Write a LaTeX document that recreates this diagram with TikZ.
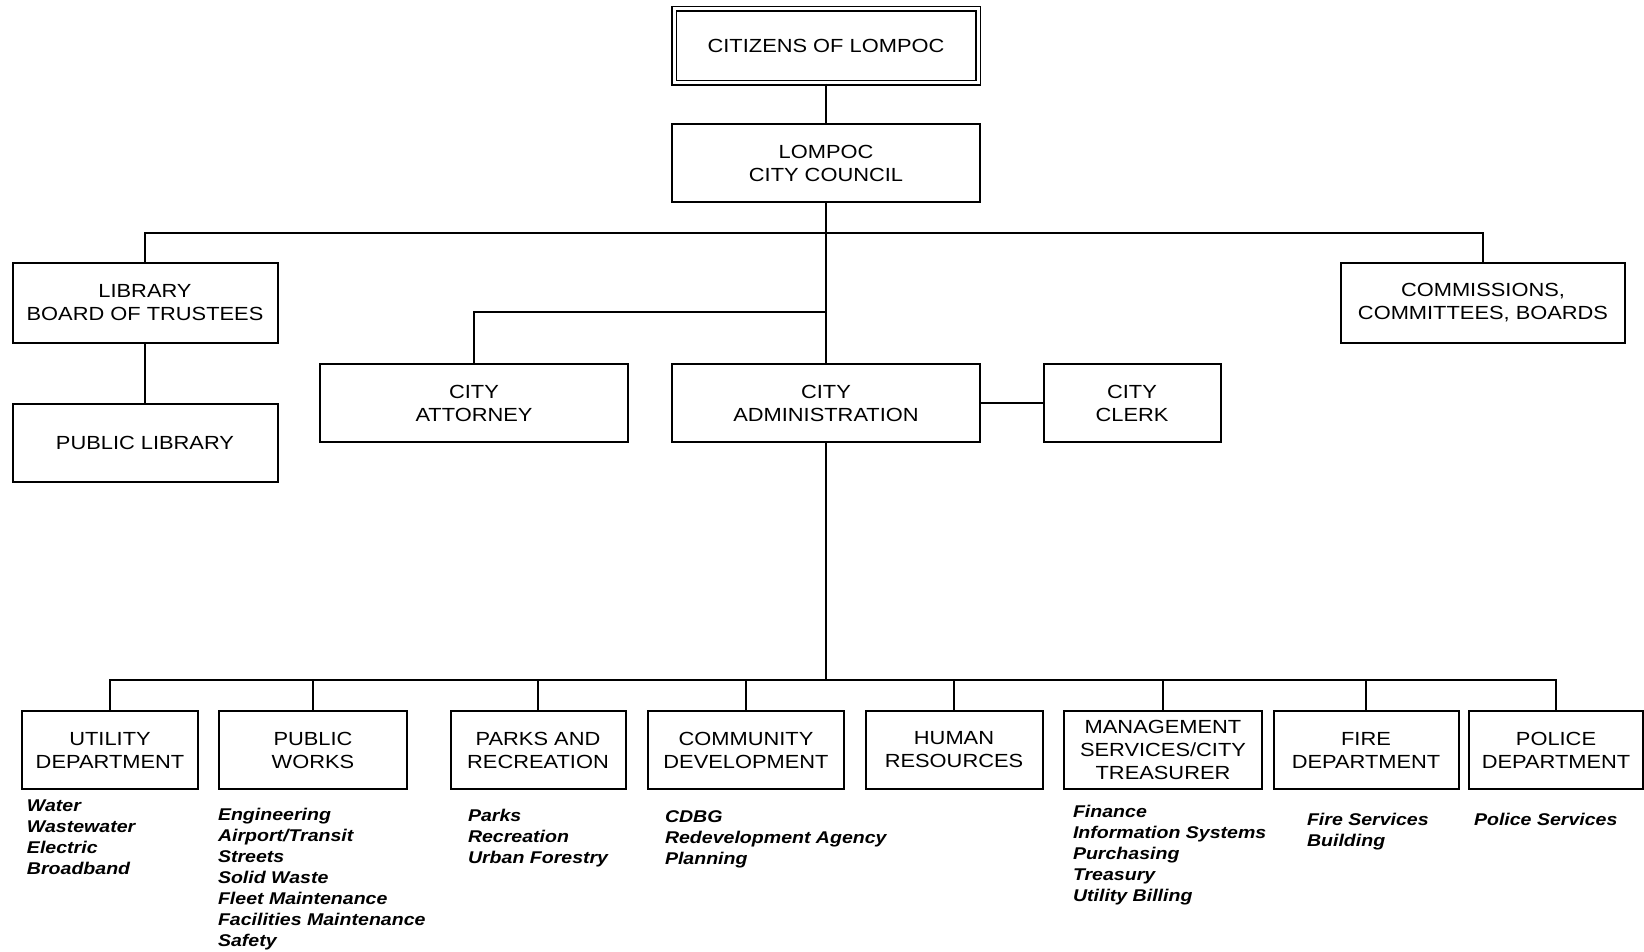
\documentclass[tikz,border=0pt]{standalone}
\usepackage{fontspec}
\setmainfont{Liberation Sans}[FakeStretch=1.15]

\begin{document}
\begin{tikzpicture}[x=1pt, y=1pt, line width=2pt, unit/.style={rectangle, draw, inner sep=2pt, align=center, minimum height=78pt, font=\fontsize{19}{23}\selectfont}, duties/.style={anchor=north west, inner sep=0pt, align=left, font=\fontsize{17}{21}\selectfont\bfseries\itshape}]
  \useasboundingbox (0,0) rectangle (1644,951);
  {
  \node[unit, double, double distance=3pt, line width=1.5pt, minimum width=304pt, minimum height=74pt] (citizens) at (826,905) {CITIZENS OF LOMPOC};
  \node[unit, minimum width=308pt, below of=citizens, node distance=117pt] (council) {LOMPOC\\CITY COUNCIL};
  \node[unit, minimum width=308pt, below of=council, node distance=240pt] (admin) {CITY\\ADMINISTRATION};
  \node[unit, minimum width=308pt, left of=admin, node distance=352pt] (atty) {CITY\\ATTORNEY};
  \node[unit, minimum width=177pt, right of=admin, node distance=306pt] (clerk) {CITY\\CLERK};
  \node[unit, minimum width=265pt, minimum height=80pt] (libboard) at (145,648) {LIBRARY\\BOARD OF TRUSTEES};
  \node[unit, minimum width=265pt, below of=libboard, node distance=140pt] (publib) {PUBLIC LIBRARY};
  \node[unit, minimum width=284pt, minimum height=80pt] (comm) at (1483,648) {COMMISSIONS,\\COMMITTEES, BOARDS};

  \node[coordinate] (topbus) at (826,718) {};
  \node[coordinate] (attyjoin) at (826,639) {};
  \node[coordinate] (botbus) at (826,271) {};

  \node[unit, minimum width=176pt] (util) at (110,201) {UTILITY\\DEPARTMENT};
  \node[unit, minimum width=188pt, right of=util, node distance=203pt] (works) {PUBLIC\\WORKS};
  \node[unit, minimum width=175pt, right of=works, node distance=225pt] (parks) {PARKS AND\\RECREATION};
  \node[unit, minimum width=196pt, right of=parks, node distance=208pt] (commdev) {COMMUNITY\\DEVELOPMENT};
  \node[unit, minimum width=177pt, right of=commdev, node distance=208pt] (hr) {HUMAN\\RESOURCES};
  \node[unit, minimum width=198pt, right of=hr, node distance=209pt] (mgmt) {MANAGEMENT\\SERVICES/CITY\\TREASURER};
  \node[unit, minimum width=185pt, right of=mgmt, node distance=203pt] (fire) {FIRE\\DEPARTMENT};
  \node[unit, minimum width=174pt, right of=fire, node distance=190pt] (police) {POLICE\\DEPARTMENT};

  \node[duties] (utillist) at (26,152) {Water\\Wastewater\\Electric\\Broadband};
  \node[duties] (workslist) at (217,143.5) {Engineering\\Airport/Transit\\Streets\\Solid Waste\\Fleet Maintenance\\Facilities Maintenance\\Safety};
  \node[duties] (parkslist) at (467,142.5) {Parks\\Recreation\\Urban Forestry};
  \node[duties] (commdevlist) at (664,141.5) {CDBG\\Redevelopment Agency\\Planning};
  \node[duties] (mgmtlist) at (1072,146.5) {Finance\\Information Systems\\Purchasing\\Treasury\\Utility Billing};
  \node[duties] (firelist) at (1306,139) {Fire Services\\Building};
  \node[duties] (policelist) at (1473,139) {Police Services};

  \draw (citizens) -- (council);
  \draw (council) -- (admin);
  \draw (libboard.north) |- (topbus) -| (comm.north);
  \draw (libboard) -- (publib);
  \draw (atty.north) |- (attyjoin);
  \draw (admin) -- (clerk);
  \draw (admin) -- (botbus);
  \foreach \dept in {util,works,parks,commdev,hr,mgmt,fire,police}
    \draw (botbus) -| (\dept.north);
  }
\end{tikzpicture}
\end{document}
